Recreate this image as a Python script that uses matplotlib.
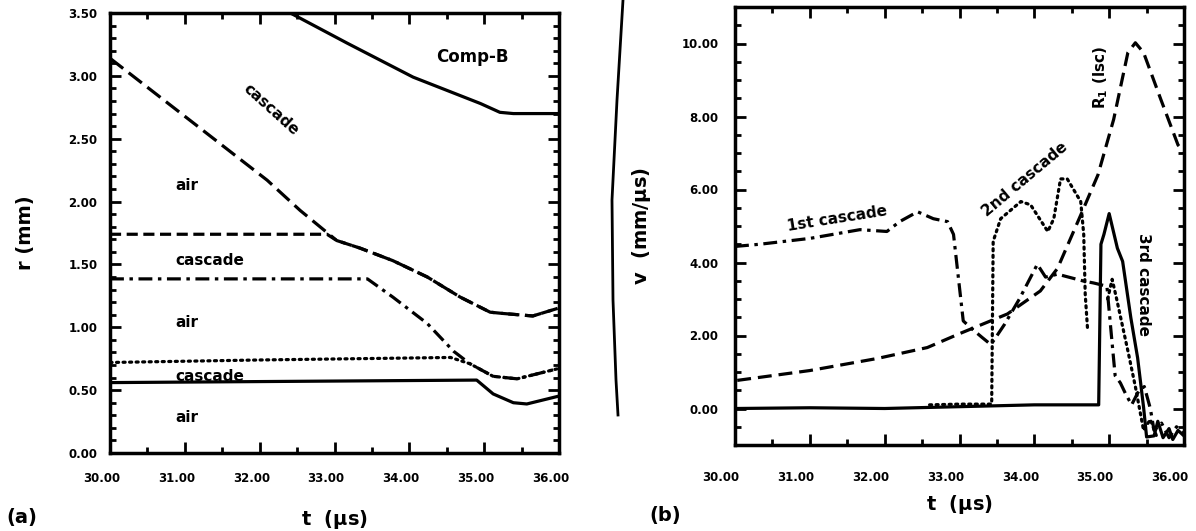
import matplotlib
matplotlib.use("Agg")
import matplotlib.pyplot as plt
import matplotlib.transforms as mtransforms
import numpy as np
from matplotlib.lines import Line2D
from matplotlib.ticker import MultipleLocator, FormatStrFormatter

plt.rcParams['font.family'] = ['DejaVu Sans']
plt.rcParams['font.weight'] = 'bold'
plt.rcParams['lines.scale_dashes'] = False

# ---------------- Panel (a): interface radius r (mm) vs t (us) ----------------
a_compb_t = [32.41, 33.17, 34.05, 34.95, 35.21, 35.39, 36.0]
a_compb_r = [3.50, 3.26, 2.99, 2.78, 2.71, 2.70, 2.70]

a_casc1_t = [30.0, 32.10, 32.54, 33.03, 33.34, 33.78, 34.24, 34.68, 35.08, 35.25, 35.65, 35.98]
a_casc1_r = [3.14, 2.17, 1.93, 1.69, 1.63, 1.53, 1.40, 1.24, 1.12, 1.11, 1.09, 1.15]

a_casc2_t = [30.0, 32.90, 33.03, 33.34, 33.78, 34.24, 34.68, 35.08, 35.25, 35.65, 35.98]
a_casc2_r = [1.74, 1.74, 1.69, 1.63, 1.53, 1.40, 1.24, 1.12, 1.11, 1.09, 1.15]

a_dashdot_t = [30.0, 33.44, 33.78, 34.24, 34.59, 34.81, 35.12, 35.44, 35.71, 35.98]
a_dashdot_r = [1.385, 1.385, 1.24, 1.03, 0.81, 0.71, 0.61, 0.59, 0.63, 0.67]

a_dotted_t = [30.0, 32.0, 34.55, 34.81, 35.12, 35.44, 35.71, 35.98]
a_dotted_r = [0.72, 0.74, 0.76, 0.71, 0.61, 0.59, 0.63, 0.67]

a_solid_t = [30.0, 34.90, 35.12, 35.39, 35.57, 35.98]
a_solid_r = [0.56, 0.58, 0.47, 0.40, 0.39, 0.45]

a_labels = ["Comp-B", "cascade", "air", "cascade", "air", "cascade", "air"]

# ---------------- Panel (b): velocity v (mm/us) vs t (us) ----------------
b_solid_t = [30.0, 31.0, 32.0, 33.0, 34.0, 34.86, 34.89, 34.93, 35.0, 35.11, 35.18, 35.29, 35.38, 35.46, 35.5,
             35.6, 35.65, 35.72, 35.8, 35.85, 35.92, 36.0]
b_solid_v = [0.0, 0.02, 0.0, 0.05, 0.1, 0.1, 4.5, 4.77, 5.34, 4.39, 4.03, 2.48, 1.39, 0.03, -0.78,
             -0.75, -0.35, -0.8, -0.55, -0.85, -0.6, -0.75]

b_rs_t = [30.03, 31.0, 31.9, 32.57, 33.0, 33.19, 33.64, 34.08, 34.31, 34.62, 34.85, 35.06, 35.25, 35.35,
          35.46, 35.69, 35.92, 36.0]
b_rs_v = [0.77, 1.04, 1.37, 1.67, 2.05, 2.21, 2.59, 3.22, 3.84, 5.3, 6.4, 7.92, 9.75, 10.02,
          9.75, 8.47, 7.22, 7.03]

b_first_t = [30.0, 30.33, 31.0, 31.67, 32.03, 32.2, 32.44, 32.65, 32.84, 32.92, 33.05, 33.15, 33.3, 33.42,
             33.6, 33.8, 34.04, 34.15, 34.31, 34.66, 34.79, 34.97, 35.03, 35.08, 35.15, 35.22, 35.3,
             35.4, 35.47, 35.55, 35.6, 35.7, 35.8, 35.9, 36.0]
b_first_v = [4.44, 4.5, 4.66, 4.9, 4.85, 5.12, 5.39, 5.2, 5.12, 4.77, 2.4, 2.21, 1.95, 1.75,
             2.3, 3.0, 3.95, 3.6, 3.68, 3.49, 3.44, 3.35, 2.0, 0.9, 0.7, 0.4, 0.1,
             0.5, 0.6, 0.0, -0.6, -0.4, -0.8, -0.5, -0.7]

b_second_t = [32.6, 33.0, 33.43, 33.45, 33.55, 33.82, 33.95, 34.18, 34.26, 34.35, 34.44, 34.62, 34.66,
              34.68, 34.71, np.nan, 34.98, 35.04, 35.1, 35.25, 35.35, 35.46, 35.55, 35.65]
b_second_v = [0.1, 0.12, 0.12, 4.58, 5.2, 5.67, 5.58, 4.85, 5.2, 6.29, 6.29, 5.67, 4.77,
              3.13, 2.21, np.nan, 3.0, 3.54, 3.0, 1.58, 0.6, -0.6, -0.3, -0.85]

b_labels = ["1st cascade", "2nd cascade", "R$_1$ (lsc)", "3rd cascade"]

W, H = 1196, 531
fig = plt.figure(figsize=(W / 100, H / 100), dpi=100)

def px_axes(l, r, t, b):
    return fig.add_axes([l / W, 1 - b / H, (r - l) / W, (b - t) / H])

ax1 = px_axes(110, 559, 13, 453)
ax2 = px_axes(735, 1184, 7, 445)

lw = 2.3
LONG = (0, (12, 5))
MED = (0, (8, 4))
DOT = (0, (1.5, 3.2))
DASHDOT = (0, (10, 4, 2.5, 4))
FS = 11

# Panel (a)
ax1.plot(a_compb_t, a_compb_r, color='black', lw=lw, solid_capstyle='round')
ax1.plot(a_casc1_t, a_casc1_r, color='black', lw=lw, linestyle=LONG)
ax1.plot(a_casc2_t, a_casc2_r, color='black', lw=lw, linestyle=MED)
ax1.plot(a_dashdot_t, a_dashdot_r, color='black', lw=lw, linestyle=DASHDOT)
ax1.plot(a_dotted_t, a_dotted_r, color='black', lw=lw, linestyle=DOT, dash_capstyle='round')
ax1.plot(a_solid_t, a_solid_r, color='black', lw=lw)

ax1.text(34.84, 3.15, a_labels[0], fontsize=12, fontweight='bold', ha='center', va='center')
ax1.text(32.15, 2.73, a_labels[1], fontsize=FS, fontweight='bold', ha='center', va='center', rotation=-42)
ax1.text(30.87, 2.13, a_labels[2], fontsize=FS, fontweight='bold', ha='left', va='center')
ax1.text(30.87, 1.53, a_labels[3], fontsize=FS, fontweight='bold', ha='left', va='center')
ax1.text(30.87, 1.04, a_labels[4], fontsize=FS, fontweight='bold', ha='left', va='center')
ax1.text(30.87, 0.61, a_labels[5], fontsize=FS, fontweight='bold', ha='left', va='center')
ax1.text(30.87, 0.28, a_labels[6], fontsize=FS, fontweight='bold', ha='left', va='center')

ax1.set_xlim(30, 36)
ax1.set_ylim(0, 3.5)
ax1.xaxis.set_major_locator(MultipleLocator(1.0))
ax1.xaxis.set_minor_locator(MultipleLocator(0.5))
ax1.yaxis.set_major_locator(MultipleLocator(0.5))
ax1.yaxis.set_minor_locator(MultipleLocator(0.1))
ax1.xaxis.set_major_formatter(FormatStrFormatter('%.2f'))
ax1.yaxis.set_major_formatter(FormatStrFormatter('%.2f'))
ax1.set_ylabel('r (mm)', fontsize=14, fontweight='bold', labelpad=24)
ax1.set_xlabel(r't  ($\mathbf{\mu}$s)', fontsize=14, fontweight='bold', labelpad=16)

# Panel (b)
ax2.plot(b_solid_t, b_solid_v, color='black', lw=lw)
ax2.plot(b_rs_t, b_rs_v, color='black', lw=lw, linestyle=(0, (10, 5)))
ax2.plot(b_first_t, b_first_v, color='black', lw=lw, linestyle=DASHDOT)
ax2.plot(b_second_t, b_second_v, color='black', lw=lw, linestyle=DOT, dash_capstyle='round')

ax2.text(31.37, 5.2, b_labels[0], fontsize=FS, fontweight='bold', ha='center', va='center', rotation=9)
ax2.text(33.88, 6.27, b_labels[1], fontsize=FS, fontweight='bold', ha='center', va='center', rotation=40)
ax2.text(34.89, 9.07, b_labels[2], fontsize=FS, fontweight='bold', ha='center', va='center', rotation=90)
ax2.text(35.46, 3.4, b_labels[3], fontsize=FS, fontweight='bold', ha='center', va='center', rotation=-90)

ax2.set_xlim(30, 36)
ax2.set_ylim(-1, 11)
ax2.xaxis.set_major_locator(MultipleLocator(1.0))
ax2.xaxis.set_minor_locator(MultipleLocator(0.5))
ax2.yaxis.set_minor_locator(MultipleLocator(0.5))
ax2.set_yticks([0, 2, 4, 6, 8, 10])
ax2.xaxis.set_major_formatter(FormatStrFormatter('%.2f'))
ax2.yaxis.set_major_formatter(FormatStrFormatter('%.2f'))
ax2.set_ylabel(r'v  (mm/$\mathbf{\mu}$s)', fontsize=14, fontweight='bold', labelpad=20)
ax2.set_xlabel(r't  ($\mathbf{\mu}$s)', fontsize=14, fontweight='bold', labelpad=6)

for ax in (ax1, ax2):
    for s in ax.spines.values():
        s.set_linewidth(2.5)
    ax.tick_params(which='both', direction='in', top=True, right=True, width=2,
                   labelsize=8.5)
    ax.tick_params(which='major', length=8)
    ax.tick_params(which='minor', length=4)

ax1.tick_params(axis='x', which='major', pad=14)
ax1.tick_params(axis='y', which='major', pad=9)
ax2.tick_params(axis='x', which='major', pad=19)
ax2.tick_params(axis='y', which='major', pad=12)

fig.canvas.draw()
for ax, dx in ((ax1, -6), (ax2, -10)):
    off = mtransforms.ScaledTranslation(dx / 72, 0, fig.dpi_scale_trans)
    for lab in ax.get_xticklabels():
        lab.set_transform(lab.get_transform() + off)
    for lab in ax.get_xticklabels() + ax.get_yticklabels():
        lab.set_fontweight('bold')

fig.text(22 / W, 1 - 517 / H, '(a)', fontsize=14, fontweight='bold', ha='center', va='center')
fig.text(665 / W, 1 - 515 / H, '(b)', fontsize=14, fontweight='bold', ha='center', va='center')

# scanned page edge between panels
edge_x = [623, 617, 612, 613, 616, 618]
edge_y = [0, 100, 200, 300, 380, 415]
fig.add_artist(Line2D([x / W for x in edge_x], [1 - y / H for y in edge_y],
                      transform=fig.transFigure, color='black', lw=2.0))

fig.savefig('out.png', dpi=100, facecolor='white')
